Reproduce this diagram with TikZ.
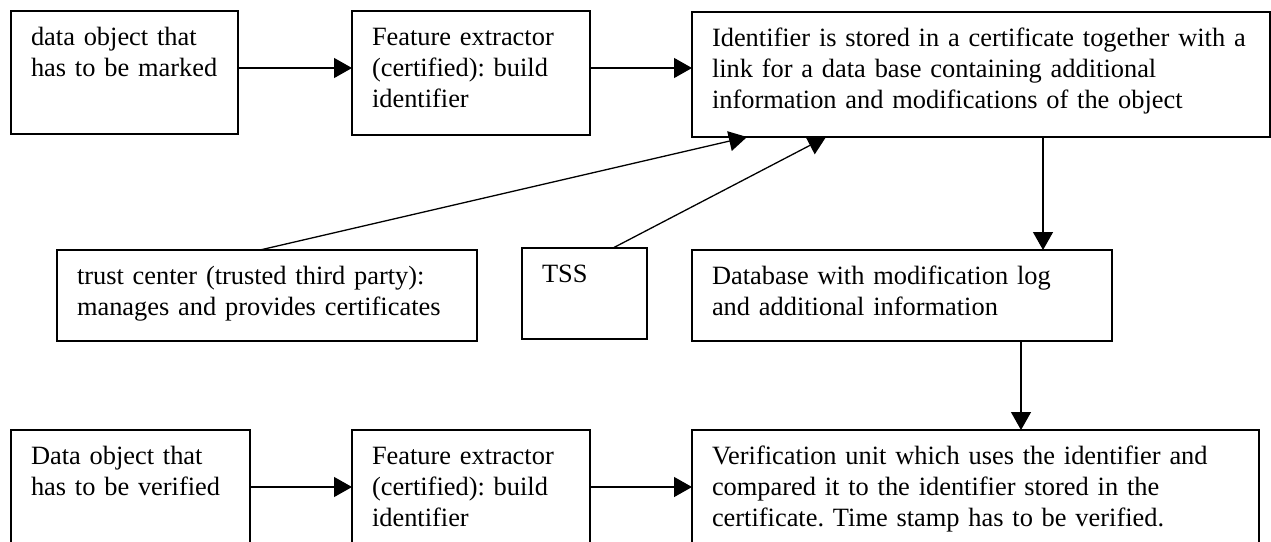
\documentclass[tikz,border=0pt]{standalone}
\usepackage{fontspec}
\setmainfont{Liberation Serif}
\usetikzlibrary{arrows.meta,calc}
\tikzset{
  box/.style={draw, line width=1.3pt, anchor=north west, inner xsep=20pt, inner ysep=12pt,
    outer sep=0pt, align=left, text height=22pt, font=\fontsize{26.4}{31.3}\selectfont,
    execute at begin node=\frenchspacing},
  arr/.style={line width=1.3pt, -{Triangle[length=18pt,width=20pt]}},
}
\begin{document}
\begin{tikzpicture}[x=1pt,y=1pt]
\useasboundingbox (0,0) rectangle (1271,-541);
\clip (0,0) rectangle (1271,-541);
% top row
\node[box, text width=187pt, text depth=77pt] (A) at (11,-11) {data object that\\has to be marked};
\node[box, text width=198pt, text depth=78pt] (B) at (352,-11) {Feature extractor\\(certified): build\\identifier};
\node[box, text width=538pt, text depth=79pt] (C) at (692,-12) {Identifier is stored in a certificate together with a\\link for a data base containing additional\\information and modifications of the object};
% middle row
\node[box, text width=380pt, text depth=45pt] (T) at (57,-250) {trust center (trusted third party):\\manages and provides certificates};
\node[box, text width=85pt, text depth=45pt] (S) at (522,-248) {TSS};
\node[box, text width=380pt, text depth=45pt] (DB) at (692,-250) {Database with modification log\\and additional information};
% bottom row
\node[box, text width=199pt, text depth=77pt] (D) at (11,-430) {Data object that\\has to be verified};
\node[box, text width=198pt, text depth=77pt] (E) at (352,-430) {Feature extractor\\(certified): build\\identifier};
\node[box, text width=527pt, text depth=77pt] (F) at (692,-430) {Verification unit which uses the identifier and\\compared it to the identifier stored in the\\certificate. Time stamp has to be verified.};
% connectors
\coordinate (ab) at ($(A.north east)+(0,-57)$);
\draw[arr] (ab) -- (ab -| B.west);
\coordinate (bc) at ($(B.north east)+(0,-57)$);
\draw[arr] (bc) -- (bc -| C.west);
\coordinate (de) at ($(D.north east)+(0,-57)$);
\draw[arr] (de) -- (de -| E.west);
\coordinate (ef) at ($(E.north east)+(0,-57)$);
\draw[arr] (ef) -- (ef -| F.west);
\coordinate (ts) at ($(T.north west)+(203,0)$);
\coordinate (tc) at ($(C.south west)+(55,0)$);
\draw[arr] (ts) -- (tc);
\coordinate (ss) at ($(S.north west)+(91,0)$);
\coordinate (sc) at ($(C.south west)+(134,0)$);
\draw[arr] (ss) -- (sc);
\coordinate (cd) at ($(C.south west)+(351,0)$);
\draw[arr] (cd) -- (cd |- DB.north);
\coordinate (df) at ($(DB.south west)+(329,0)$);
\draw[arr] (df) -- (df |- F.north);
\end{tikzpicture}
\end{document}
